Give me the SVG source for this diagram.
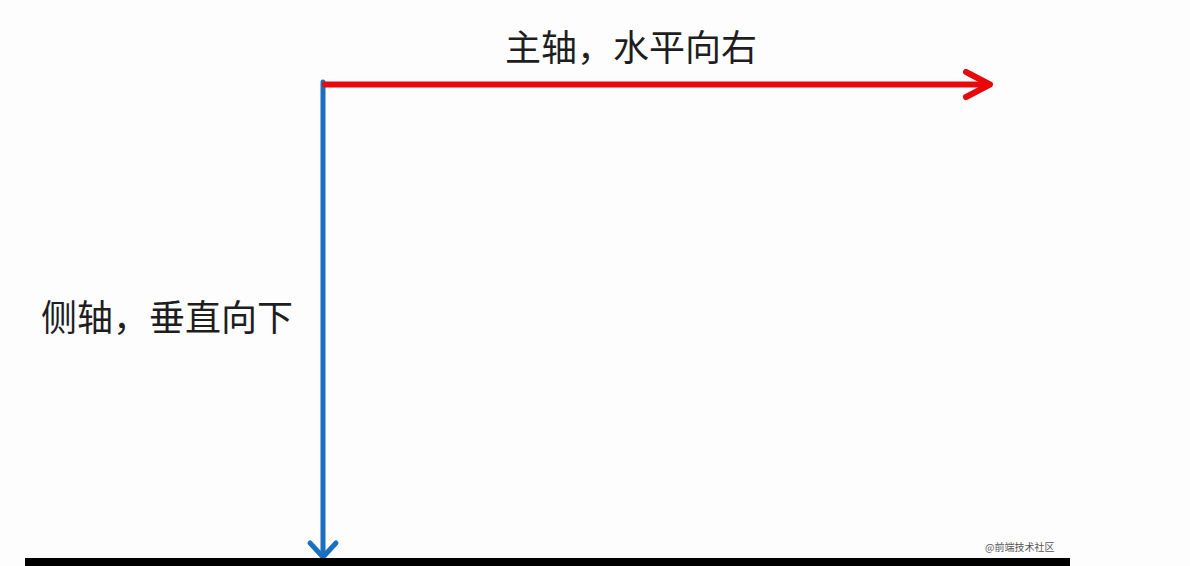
<svg xmlns="http://www.w3.org/2000/svg" width="1190" height="566" viewBox="0 0 1190 566">
  <style>
    .label { font-family: "Noto Sans CJK SC", "Noto Sans", sans-serif; font-size: 36px; fill: #1e1e1e; }
    .wm { font-family: "Noto Sans CJK SC", "Noto Sans", sans-serif; font-size: 10px; fill: #555; }
    .main { stroke: #e8080c; stroke-width: 6; fill: none; stroke-linecap: round; stroke-linejoin: round; }
    .cross { stroke: #1a6fbe; stroke-width: 5; fill: none; stroke-linecap: round; stroke-linejoin: round; }
  </style>
  <rect x="0" y="0" width="1190" height="566" fill="#fdfdfe"/>
  <g id="connectors">
    <line class="cross" x1="323" y1="82" x2="323" y2="556"/>
    <polyline class="cross" points="310,543 323,557 336,543"/>
    <line class="main" x1="325" y1="84.5" x2="988" y2="84.5"/>
    <polyline class="main" points="966,72 990,84.5 966,97"/>
  </g>
  <g id="main-axis-label">
    <text class="label" x="505" y="61">主轴，水平向右</text>
  </g>
  <g id="cross-axis-label">
    <text class="label" x="41" y="331">侧轴，垂直向下</text>
  </g>
  <g id="baseline">
    <rect x="25" y="558" width="1045" height="8" fill="#000"/>
  </g>
  <g id="watermark">
    <text class="wm" x="985" y="551">@前端技术社区</text>
  </g>
</svg>
